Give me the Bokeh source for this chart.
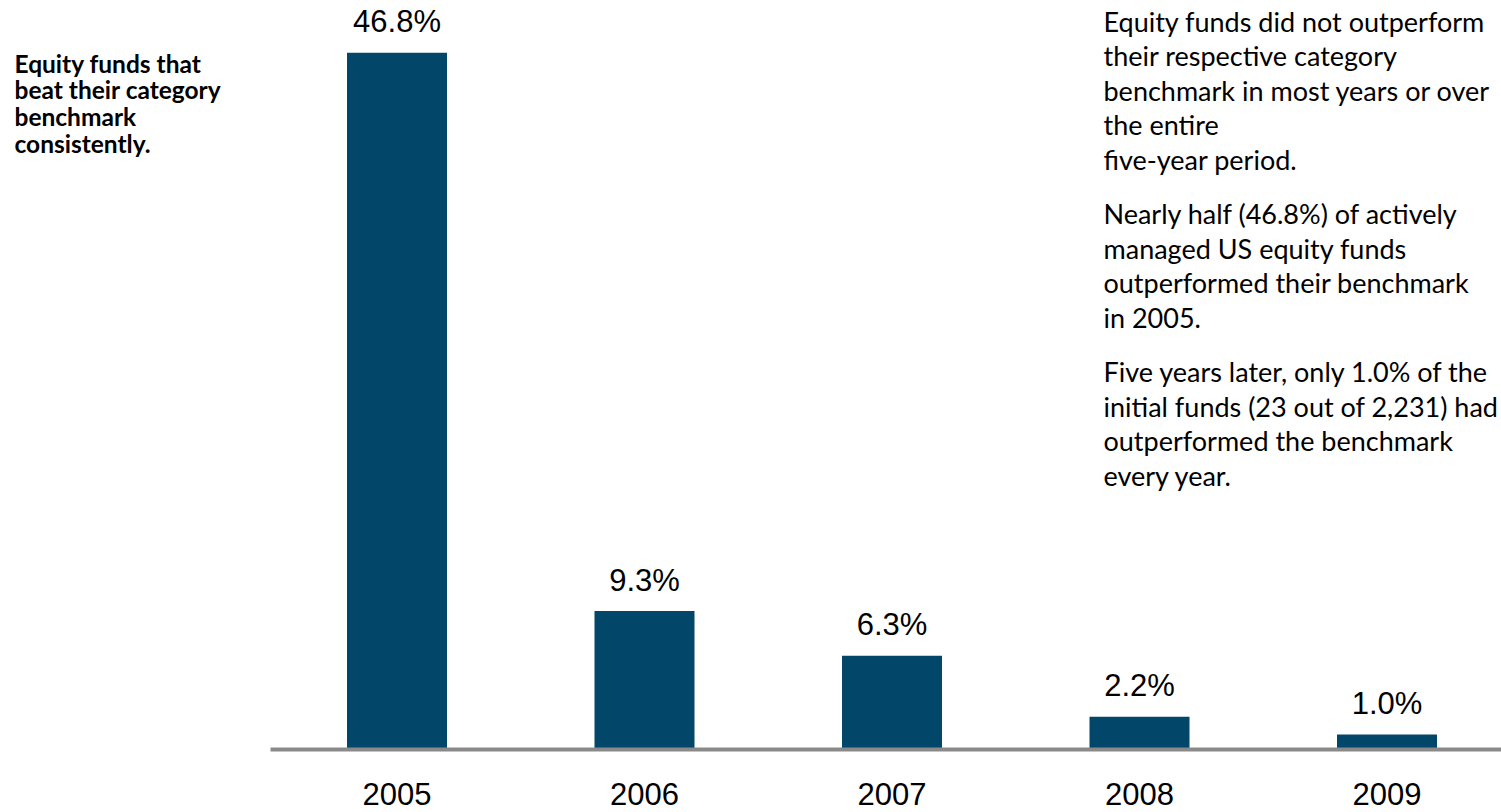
from bokeh.plotting import figure
from bokeh.models import ColumnDataSource, Range1d
from bokeh.core.properties import value
from bokeh.embed import file_html
from bokeh.resources import INLINE

# ---- data ----
years = [2005, 2006, 2007, 2008, 2009]
year_labels = ["2005", "2006", "2007", "2008", "2009"]
pct = [46.8, 9.3, 6.3, 2.2, 1.0]
pct_labels = ["46.8%", "9.3%", "6.3%", "2.2%", "1.0%"]

left_lines = ["Equity funds that", "beat their category", "benchmark", "consistently."]
right_paragraphs = [
    ["Equity funds did not outperform", "their respective category",
     "benchmark in most years or over", "the entire", "five-year period."],
    ["Nearly half (46.8%) of actively", "managed US equity funds",
     "outperformed their benchmark", "in 2005."],
    ["Five years later, only 1.0% of the", "initial funds (23 out of 2,231) had",
     "outperformed the benchmark", "every year."],
]

# ---- layout (pixels) ----
W, H = 1501, 812
X0_PX, DX_PX = 396.5, 247.5      # centre of first bar, bar spacing
BASE_PX, KY = 749.0, 14.89       # baseline pixel row, pixels per percent
BAR_PX = 100
BAR_COLOR = "#02476a"
AXIS_COLOR = "#8a8a8a"
SHIFT = 0.38                     # empirical baseline correction (x font size)


def px_x(px):
    return years[0] + (px - X0_PX) / DX_PX


def px_y(py):
    return (BASE_PX - py) / KY


p = figure(width=W, height=H,
           x_range=Range1d(px_x(0), px_x(W)),
           y_range=Range1d(px_y(H), px_y(0)),
           output_backend="svg", toolbar_location=None,
           x_axis_type=None, y_axis_type=None, min_border=0,
           outline_line_color=None,
           background_fill_color="white", border_fill_color="white")
p.grid.visible = False

src = ColumnDataSource(dict(year=years, pct=pct, label=pct_labels, ylabel=year_labels,
                            zero=[0] * len(years)))

p.vbar(x="year", top="pct", bottom=0, width=BAR_PX / DX_PX, source=src,
       fill_color=BAR_COLOR, line_color=None)

# baseline axis
p.segment(x0=[px_x(270)], y0=[0], x1=[px_x(W)], y1=[0],
          line_color=AXIS_COLOR, line_width=4)

VAL_FS = 31
# value labels
p.text(x="year", y="pct", text="label", source=src, text_align="center",
       text_baseline="alphabetic", y_offset=-19 - SHIFT * VAL_FS,
       text_font=value("Liberation Sans"), text_font_size=value(f"{VAL_FS}px"),
       text_color="black")

# year labels
p.text(x="year", y="zero", text="ylabel", source=src, text_align="center",
       text_baseline="alphabetic", y_offset=56 - SHIFT * VAL_FS,
       text_font=value("Liberation Sans"), text_font_size=value(f"{VAL_FS}px"),
       text_color="black")

# left annotation
LFS = 24.5
lx = [px_x(14)] * len(left_lines)
ly = [px_y(72 + i * 26.7 - SHIFT * LFS) for i in range(len(left_lines))]
p.text(x=lx, y=ly, text=left_lines, text_align="left", text_baseline="alphabetic",
       text_font=value("Lato"), text_font_size=value(f"{LFS}px"),
       text_font_style="bold", text_color="black")

# right annotation
RFS = 27
rt, ry = [], []
base = 31.0
for para in right_paragraphs:
    for line in para:
        rt.append(line)
        ry.append(px_y(base - SHIFT * RFS))
        base += 34.5
    base += 20.0
p.text(x=[px_x(1103)] * len(rt), y=ry, text=rt, text_align="left",
       text_baseline="alphabetic",
       text_font=value("Lato"), text_font_size=value(f"{RFS}px"),
       text_color="black")

open("out.html", "w").write(file_html(p, INLINE))
